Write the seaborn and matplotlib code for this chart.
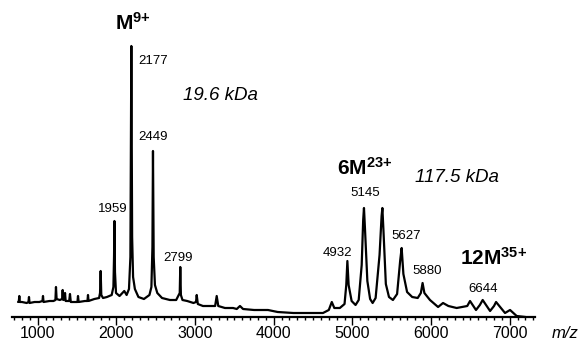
import matplotlib
matplotlib.use("Agg")
import seaborn as sns
from matplotlib import pyplot as plt

# spectrum trace (m/z, intensity above the axis)
mz_low = [750, 760, 766, 772, 800, 860, 882, 889, 896, 960, 1020, 1060, 1067, 1074,
          1150, 1200, 1225, 1232, 1240, 1280, 1310, 1317, 1325, 1340, 1347, 1355,
          1400, 1410, 1420, 1470, 1505, 1512, 1520, 1600, 1632, 1639, 1646, 1720]
int_low = [15, 16, 21, 15, 15, 14, 15, 20, 14, 15, 15, 16, 21, 15,
           16, 16, 17, 30, 18, 17, 18, 27, 17, 18, 24, 16,
           16, 23, 15, 15, 15, 21, 15, 16, 16, 22, 16, 18]

mz_m1 = [1780, 1792, 1800, 1808, 1830, 1880, 1940, 1962, 1970, 1975, 1982, 1995,
         2040, 2100, 2130]
int_m1 = [19, 24, 46, 22, 19, 20, 22, 30, 60, 96, 45, 24,
          21, 26, 22]

mz_m2 = [2160, 2178, 2190, 2200, 2212, 2235, 2280, 2350, 2420, 2445, 2458, 2465,
         2474, 2490, 2520, 2580, 2680]
int_m2 = [28, 60, 271, 80, 40, 28, 20, 18, 22, 30, 70, 166,
          60, 32, 24, 19, 17]

mz_m3 = [2760, 2805, 2812, 2820, 2840, 2900, 2980, 3012, 3021, 3035, 3100, 3200,
         3255, 3275, 3295, 3380, 3483, 3530, 3571, 3610, 3750, 3927, 4050, 4250,
         4450, 4626]
int_m3 = [17, 24, 50, 22, 17, 16, 14, 15, 22, 13, 11, 11,
          11, 21, 11, 9, 9, 8, 11, 8, 7, 7, 5, 4,
          4, 4]

mz_hex = [4700, 4738, 4770, 4840, 4900, 4922, 4936, 4952, 4990, 5040, 5080, 5118,
          5137, 5147, 5160, 5190, 5225, 5257, 5295, 5345, 5371, 5381, 5395, 5425,
          5465, 5515, 5568, 5608, 5626, 5648, 5695, 5760, 5830]
int_hex = [7, 15, 9, 9, 13, 32, 56, 32, 16, 12, 17, 52,
           97, 109, 88, 36, 18, 14, 19, 62, 101, 109, 86, 33,
           20, 17, 23, 57, 69, 43, 25, 20, 19]

mz_high = [5870, 5892, 5915, 5986, 6089, 6152, 6220, 6325, 6460, 6495, 6571, 6620,
           6656, 6750, 6800, 6826, 6940, 7004, 7088, 7200]
int_high = [24, 34, 24, 17, 10, 14, 11, 9, 11, 16, 7, 12,
            17, 6, 11, 15, 4, 7, 1, 0]

mz = mz_low + mz_m1 + mz_m2 + mz_m3 + mz_hex + mz_high
intensity = int_low + int_m1 + int_m2 + int_m3 + int_hex + int_high

# peak labels: (text, m/z, intensity, alignment)
peak_labels = [("2177", 2274, 256, "left"), ("2449", 2274, 180, "left"),
               ("1959", 1957, 108, "center"), ("2799", 2783, 59, "center"),
               ("5145", 5160, 124, "center"), ("4932", 4816, 64, "center"),
               ("5627", 5681, 81, "center"), ("5880", 5948, 46, "center"),
               ("6644", 6659, 28, "center")]

sns.set_style("ticks")
plt.rcParams["font.family"] = ["Liberation Sans", "DejaVu Sans"]
plt.rcParams["mathtext.fontset"] = "custom"
plt.rcParams["mathtext.rm"] = "Liberation Sans"
plt.rcParams["mathtext.bf"] = "Liberation Sans:bold"
plt.rcParams["mathtext.it"] = "Liberation Sans:italic"
plt.rcParams["text.color"] = "black"
plt.rcParams["xtick.color"] = "black"
plt.rcParams["axes.edgecolor"] = "black"

fig = plt.figure(figsize=(5.81, 3.43), dpi=100)
ax = fig.add_axes([12 / 581, 1 - 317 / 343, 523 / 581, 287 / 343])

sns.lineplot(x=mz, y=intensity, color="black", linewidth=1.6, estimator=None,
             sort=False, ax=ax)

ax.set_xlim(673, 7321)
ax.set_ylim(0, 287)
ax.set_xticks(range(1000, 7001, 1000))
ax.set_xticks(range(700, 7301, 100), minor=True)
ax.set_yticks([])
ax.tick_params(axis="x", which="major", length=5.5, width=1, labelsize=11.5, pad=1,
               colors="black")
ax.tick_params(axis="x", which="minor", length=2.5, width=1, colors="black")
for s in ["left", "top", "right"]:
    ax.spines[s].set_visible(False)
ax.spines["bottom"].set_linewidth(1.6)
ax.set_xlabel("")
ax.set_ylabel("")

for txt, x, y, ha in peak_labels:
    ax.text(x, y, txt, ha=ha, va="center", fontsize=9.5, color="black")

ax.text(2211, 287, r"$\mathbf{M}^{\mathbf{9{+}}}$", ha="center", va="baseline", fontsize=15)
ax.text(4804, 142, r"$\mathbf{6M}^{\mathbf{23{+}}}$", ha="left", va="baseline", fontsize=15)
ax.text(6367, 52, r"$\mathbf{12M}^{\mathbf{35{+}}}$", ha="left", va="baseline", fontsize=15)
ax.text(2846, 222, "19.6 kDa", ha="left", va="center", fontsize=13.5, style="italic")
ax.text(5795, 139, "117.5 kDa", ha="left", va="center", fontsize=13.5, style="italic")
fig.text(552 / 581, 1 - 333 / 343, "m/z", ha="left", va="center", fontsize=12, style="italic")

fig.savefig("out.png", dpi=100)
